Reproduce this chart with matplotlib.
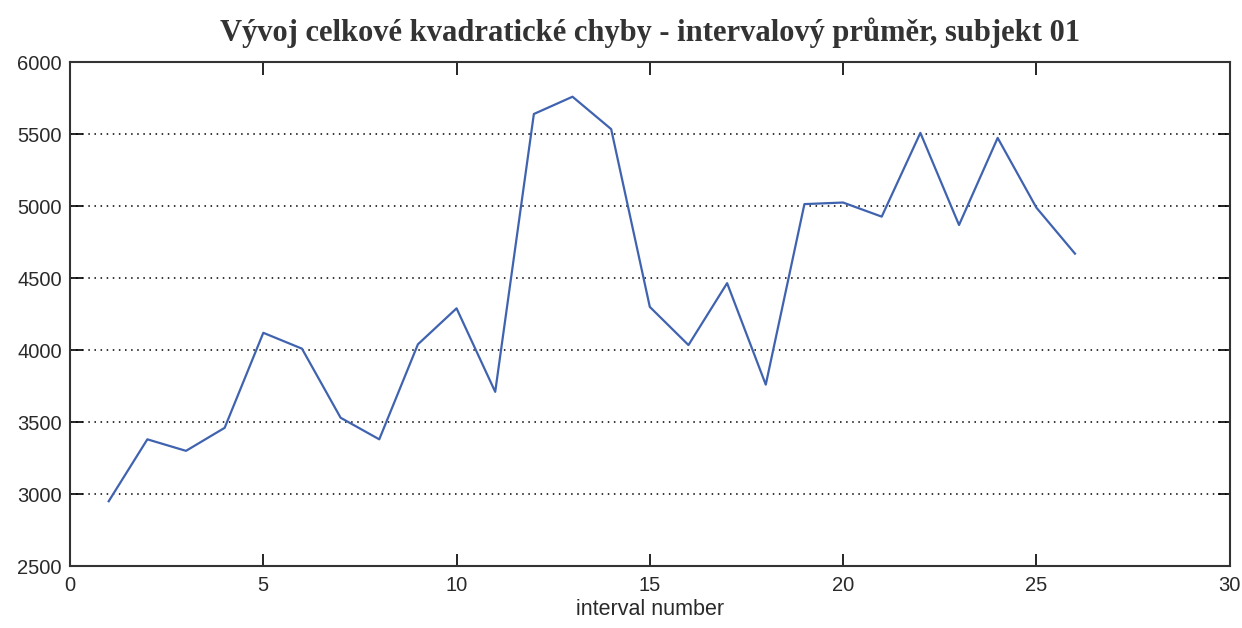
import matplotlib
matplotlib.use("Agg")
import matplotlib.pyplot as plt

# Interval-averaged total squared error, subject 01
intervals = list(range(1, 27))
error = [2950, 3380, 3300, 3460, 4120, 4010, 3530, 3380, 4040, 4290,
         3710, 5640, 5760, 5535, 4300, 4035, 4465, 3760, 5014, 5025,
         4927, 5509, 4869, 5474, 4990, 4670]

x_ticks = [0, 5, 10, 15, 20, 25, 30]
y_ticks = [2500, 3000, 3500, 4000, 4500, 5000, 5500, 6000]

title = "Vývoj celkové kvadratické chyby - intervalový průměr, subjekt 01"
x_label = "interval number"

fig = plt.figure(figsize=(12.42, 6.28), dpi=100)
ax = fig.add_axes([0.0564, 0.0987, 0.9336, 0.8023])

ax.plot(intervals, error, color="#4063b0", linewidth=1.6)

ax.set_xlim(0, 30)
ax.set_ylim(2500, 6000)
ax.set_xticks(x_ticks)
ax.set_yticks(y_ticks)

ax.yaxis.grid(True, linestyle=(0, (1, 3)), color="black", linewidth=1.1)
ax.xaxis.grid(False)

ax.tick_params(direction="in", length=9, width=1.2, top=True, right=True,
               labelsize=14.5)
ax.tick_params(axis="x", pad=7)
ax.tick_params(axis="y", pad=6)
for lbl in ax.get_xticklabels() + ax.get_yticklabels():
    lbl.set_fontfamily("Liberation Sans")
    lbl.set_color("#2a2a2a")
for sp in ax.spines.values():
    sp.set_linewidth(1.5)
    sp.set_color("#333333")

ax.set_xlabel(x_label, fontsize=15.5, family="Liberation Sans",
              color="#2a2a2a", labelpad=3)
ax.set_title(title, fontsize=22, family="Liberation Serif", fontweight="bold",
             color="#333333", pad=15)

fig.savefig("out.png", dpi=100, facecolor="white")
